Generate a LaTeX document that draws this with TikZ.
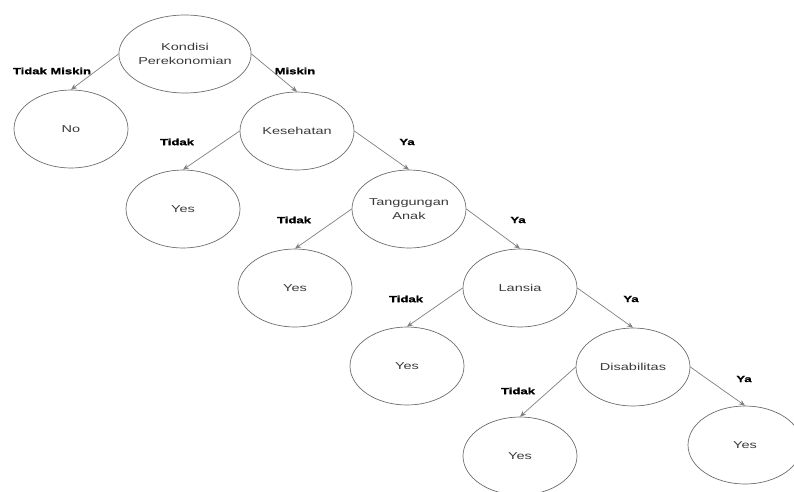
\documentclass[tikz,border=0pt]{standalone}
\usepackage{fontspec}
\setmainfont{Liberation Sans}
\newfontfamily\nodefont[FakeStretch=1.45]{Liberation Sans}
\newfontfamily\labfont[FakeStretch=1.45,FakeBold=1.2]{Liberation Sans}
\usetikzlibrary{shapes.geometric,arrows.meta}
\definecolor{edgegray}{HTML}{7F7F7F}
\definecolor{bordergray}{HTML}{6E6E6E}
\definecolor{textgray}{HTML}{3A3A3A}
\tikzset{
  tnode/.style={ellipse, draw=bordergray, line width=0.7pt, fill=white,
    minimum width=114pt, minimum height=78pt, inner sep=0pt,
    font=\nodefont\fontsize{10}{14}\selectfont, text=textgray, align=center},
  edge/.style={draw=edgegray, line width=0.7pt, -{Stealth[length=6pt,width=5pt]}},
  lab/.style={font=\labfont\bfseries\fontsize{9}{10}\selectfont, text=black, inner sep=0pt}
}
\begin{document}
\begin{tikzpicture}[x=1pt,y=-1pt]
\useasboundingbox (0,0) rectangle (794,491);
\clip (0,0) rectangle (794,491);
\node[tnode] (kon) at (185,54) {Kondisi\\Perekonomian};
\node[tnode] (no) at (71,129) {No};
\node[tnode] (kes) at (297,131) {Kesehatan};
\node[tnode] (y1) at (183,209) {Yes};
\node[tnode] (tan) at (409,209) {Tanggungan\\Anak};
\node[tnode] (y2) at (295,288) {Yes};
\node[tnode] (lan) at (520,288) {Lansia};
\node[tnode] (y3) at (407,366) {Yes};
\node[tnode] (dis) at (633,367) {Disabilitas};
\node[tnode] (y4) at (520,456) {Yes};
\node[tnode] (y5) at (745,445) {Yes};

\draw[edge] (kon.west) -- (no.north);
\draw[edge] (kon.east) -- (kes.north);
\draw[edge] (kes.west) -- (y1.north);
\draw[edge] (kes.east) -- (tan.north);
\draw[edge] (tan.west) -- (y2.north);
\draw[edge] (tan.east) -- (lan.north);
\draw[edge] (lan.west) -- (y3.north);
\draw[edge] (lan.east) -- (dis.north);
\draw[edge] (dis.west) -- (y4.north);
\draw[edge] (dis.east) -- (y5.north);

\node[lab] (l1) at (52,71) {Tidak Miskin};
\node[lab] (l2) at (295,71) {Miskin};
\node[lab] (l3) at (177,142) {Tidak};
\node[lab] (l4) at (407,142) {Ya};
\node[lab] (l5) at (294,220) {Tidak};
\node[lab] (l6) at (518,220) {Ya};
\node[lab] (l7) at (406,299) {Tidak};
\node[lab] (l8) at (631,299) {Ya};
\node[lab] (l9) at (518,391) {Tidak};
\node[lab] (l10) at (744,379) {Ya};
\end{tikzpicture}
\end{document}
